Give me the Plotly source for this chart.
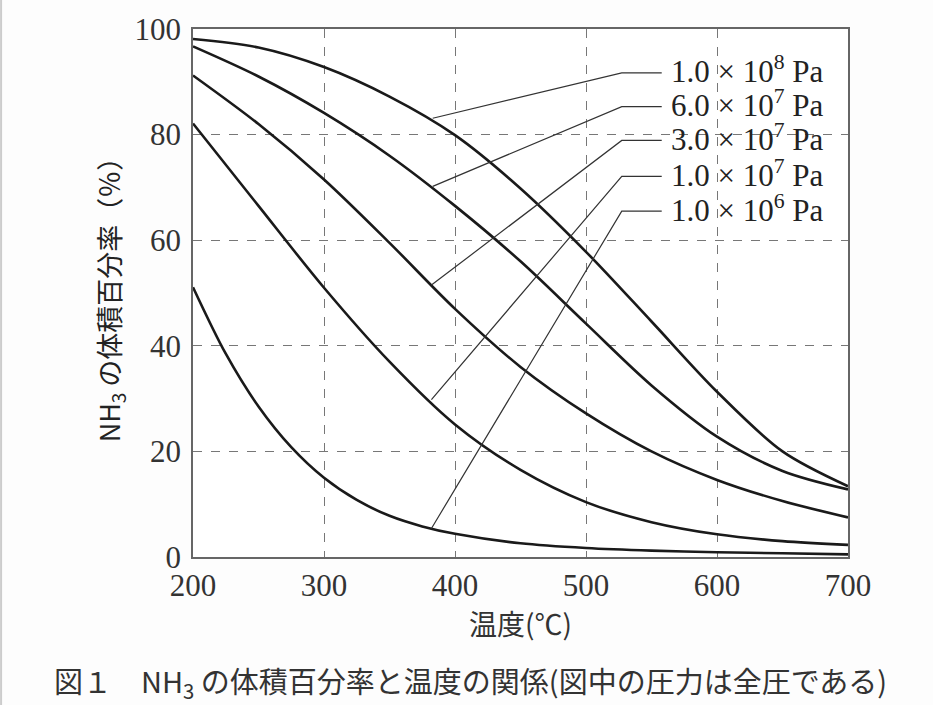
import plotly.graph_objects as go

# ---- data ----
temps = [200, 250, 300, 350, 400, 450, 500, 550, 600, 650, 700]
p_1e8 = [98.1, 96.5, 92.8, 87.2, 79.9, 69.8, 57.8, 44.6, 31.3, 20.0, 13.4]
p_6e7 = [96.7, 91.0, 84.1, 76.0, 66.5, 56.0, 44.2, 32.5, 22.8, 16.3, 12.8]
p_3e7 = [91.2, 82.0, 71.5, 59.5, 47.0, 36.0, 27.2, 20.0, 14.6, 10.6, 7.5]
p_1e7 = [82.1, 66.5, 51.0, 37.0, 25.1, 16.5, 10.4, 6.6, 4.3, 3.0, 2.3]
temps_1e6 = [200, 225, 250, 275, 300, 325, 350, 375, 400, 450, 500, 550, 600, 650, 700]
p_1e6 = [51.1, 38.5, 28.5, 20.8, 15.0, 10.8, 7.8, 5.8, 4.4, 2.6, 1.7, 1.2, 0.9, 0.7, 0.5]

series = [
    (temps, p_1e8), (temps, p_6e7), (temps, p_3e7), (temps, p_1e7), (temps_1e6, p_1e6)
]
labels = ["1.0 × 10<sup>8</sup> Pa", "6.0 × 10<sup>7</sup> Pa", "3.0 × 10<sup>7</sup> Pa",
          "1.0 × 10<sup>7</sup> Pa", "1.0 × 10<sup>6</sup> Pa"]
# leader lines: point on curve -> elbow -> end (data coords)
leader_start_x = [383, 383, 382, 382, 382]
leader_start_y = [83.1, 70.2, 51.5, 29.8, 5.4]
leader_label_y = [91.7, 85.3, 78.9, 72.1, 65.5]
leader_elbow_x = 527.3
leader_end_x = 557.8
label_x = 563

x_ticks = [200, 300, 400, 500, 600, 700]
y_ticks = [0, 20, 40, 60, 80, 100]

fig = go.Figure()

for (xs, ys) in series:
    fig.add_trace(go.Scatter(x=xs, y=ys, mode="lines",
                             line=dict(color="#1a1a1a", width=2.6, shape="spline", smoothing=0.9),
                             hoverinfo="skip", showlegend=False))

for sx, sy, ly in zip(leader_start_x, leader_start_y, leader_label_y):
    fig.add_trace(go.Scatter(x=[sx, leader_elbow_x, leader_end_x], y=[sy, ly, ly], mode="lines",
                             line=dict(color="#333333", width=1.2),
                             hoverinfo="skip", showlegend=False))

for lab, ly in zip(labels, leader_label_y):
    fig.add_annotation(x=label_x, y=ly, text=lab, showarrow=False, xanchor="left", yanchor="middle",
                       yshift=3,
                       font=dict(family="Liberation Serif", size=31, color="#222222"))

serif = "Liberation Serif"
fig.update_layout(
    width=933, height=705,
    margin=dict(l=193, r=85, t=25, b=148),
    paper_bgcolor="#fdfdfd", plot_bgcolor="#ffffff",
    xaxis=dict(range=[200, 700], tickvals=x_ticks, ticktext=[str(v) for v in x_ticks],
               showgrid=True, gridcolor="#777777", griddash="dash", gridwidth=1,
               showline=True, linecolor="#666666", linewidth=1.5, mirror=True,
               ticks="", zeroline=False,
               tickfont=dict(family=serif, size=31, color="#333333"),
               title=dict(text="温度(℃)", font=dict(family="Noto Sans CJK JP", size=28, color="#333333"),
                          standoff=6)),
    yaxis=dict(range=[0, 100], tickvals=y_ticks, ticktext=[str(v) for v in y_ticks],
               showgrid=True, gridcolor="#777777", griddash="dash", gridwidth=1,
               showline=True, linecolor="#666666", linewidth=1.5, mirror=True,
               ticks="", zeroline=False, ticklabelstandoff=4,
               tickfont=dict(family=serif, size=31, color="#333333"),
               title=dict(text="NH<sub>3</sub> の体積百分率（％）",
                          font=dict(family="Noto Sans CJK JP", size=27, color="#222222"),
                          standoff=6)),
)

fig.add_annotation(xref="paper", yref="paper", x=-0.215, y=-0.237, xanchor="left", yanchor="middle",
                   text="図１　NH<sub>3</sub> の体積百分率と温度の関係(図中の圧力は全圧である)",
                   showarrow=False, font=dict(family="Noto Sans CJK JP", size=29, color="#333333"))

fig.add_shape(type="line", xref="paper", yref="paper", x0=-0.293, x1=-0.293, y0=-0.3, y1=1.06,
              line=dict(color="#cccccc", width=2))

fig.write_html("out.html")
